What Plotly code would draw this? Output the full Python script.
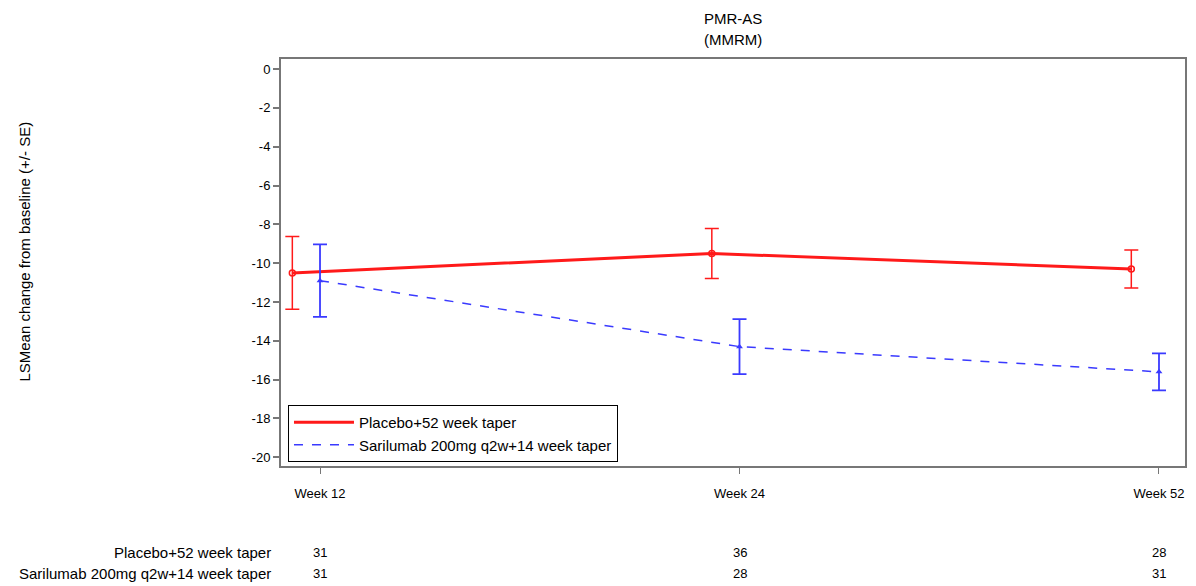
import plotly.graph_objects as go

# Visits and per-arm least-squares mean change from baseline (MMRM)
weeks = ["Week 12", "Week 24", "Week 52"]
groups = ["Placebo+52 week taper", "Sarilumab 200mg q2w+14 week taper"]

placebo_mean = [-10.5, -9.5, -10.3]
placebo_se = [1.87, 1.29, 0.98]
saril_mean = [-10.9, -14.3, -15.6]
saril_se = [1.87, 1.42, 0.95]

# Number of patients contributing at each visit
placebo_n = [31, 36, 28]
saril_n = [31, 28, 31]

y_ticks = list(range(0, -21, -2))

RED = "#ff1a1a"
BLUE = "#3a3aff"
FONT = "Liberation Sans"

W, H = 1196, 586
L, R, T, B = 281, 9, 59, 120
plot_w = W - L - R
plot_h = H - T - B


def px_x(px):
    return (px - L) / plot_w


def px_y(py):
    return (H - B - py) / plot_h


pos = list(range(len(weeks)))
dodge = -0.066  # placebo drawn slightly left of the visit tick
placebo_x = [p + dodge for p in pos]

fig = go.Figure()
# Connecting lines (these carry the legend entries)
fig.add_trace(go.Scatter(x=placebo_x, y=placebo_mean, name=groups[0], mode="lines",
                         line=dict(color=RED, width=3)))
fig.add_trace(go.Scatter(x=pos, y=saril_mean, name=groups[1], mode="lines",
                         line=dict(color=BLUE, width=1.5, dash="dash")))
# Means with +/- SE bars
fig.add_trace(go.Scatter(
    x=placebo_x, y=placebo_mean, mode="markers", showlegend=False,
    marker=dict(symbol="circle-open", size=6, color=RED, line=dict(width=1.5)),
    error_y=dict(type="data", array=placebo_se, color=RED, thickness=1.5, width=7),
))
fig.add_trace(go.Scatter(
    x=pos, y=saril_mean, mode="markers", showlegend=False,
    marker=dict(symbol="triangle-up", size=6, color=BLUE),
    error_y=dict(type="data", array=saril_se, color=BLUE, thickness=1.8, width=7),
))

# Title lines
for txt, py in [("PMR-AS", 18), ("(MMRM)", 40)]:
    fig.add_annotation(text=txt, xref="paper", yref="paper",
                       x=px_x(734), y=px_y(py),
                       xanchor="center", yanchor="middle", showarrow=False,
                       font=dict(family=FONT, size=15, color="#000"))

# Y-axis title
fig.add_annotation(text="LSMean change from baseline (+/- SE)", xref="paper", yref="paper",
                   x=px_x(23), y=px_y(252), textangle=-90,
                   xanchor="center", yanchor="middle", showarrow=False,
                   font=dict(family=FONT, size=15, color="#000"))

# At-risk table under the x axis
row_px = [552, 573]
for label, counts, py in zip(groups, [placebo_n, saril_n], row_px):
    ry = px_y(py)
    fig.add_annotation(text=label, xref="paper", yref="paper", x=px_x(273), y=ry,
                       xanchor="right", yanchor="middle", showarrow=False,
                       font=dict(family=FONT, size=15, color="#000"))
    for p, n in zip(pos, counts):
        fig.add_annotation(text=str(n), xref="x", yref="paper", x=p, y=ry,
                           xanchor="center", yanchor="middle", showarrow=False,
                           font=dict(family=FONT, size=13, color="#000"))

fig.update_layout(
    width=W, height=H,
    margin=dict(l=L, r=R, t=T, b=B),
    paper_bgcolor="white", plot_bgcolor="white",
    font=dict(family=FONT, size=13, color="#000"),
    showlegend=True,
    legend=dict(x=px_x(288), y=px_y(462), xanchor="left", yanchor="bottom",
                bgcolor="white", bordercolor="#000", borderwidth=1,
                font=dict(family=FONT, size=15, color="#000"),
                tracegroupgap=0, itemwidth=60),
)
fig.update_xaxes(
    range=[-0.093, 2.062], tickvals=pos, ticktext=weeks,
    showgrid=False, zeroline=False,
    showline=True, linecolor="#777", linewidth=2, mirror=True,
    ticks="outside", ticklen=6, tickcolor="#777", tickwidth=1,
    ticklabelstandoff=8,
    tickfont=dict(family=FONT, size=13, color="#000"),
)
fig.update_yaxes(
    range=[-20.45, 0.52], tickvals=y_ticks, ticktext=[str(v) for v in y_ticks],
    showgrid=False, zeroline=False,
    showline=True, linecolor="#777", linewidth=2, mirror=True,
    ticks="outside", ticklen=6, tickcolor="#777", tickwidth=2,
    tickfont=dict(family=FONT, size=13, color="#000"),
)

fig.write_html("out.html")
